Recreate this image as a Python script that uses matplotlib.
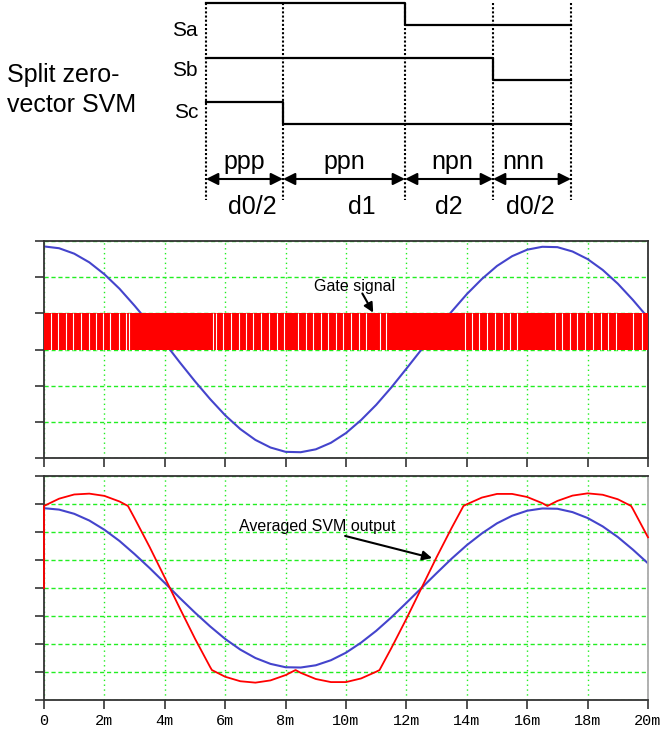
import matplotlib
matplotlib.use("Agg")
import matplotlib.pyplot as plt
import numpy as np

plt.rcParams['font.family'] = ['Liberation Sans', 'DejaVu Sans']

# ---- timing diagram data (split zero-vector SVM) ----
switches = ['Sa', 'Sb', 'Sc']
states = ['ppp', 'ppn', 'npn', 'nnn']
durations = ['d0/2', 'd1', 'd2', 'd0/2']
seg_width = [77, 122, 88, 78]          # relative interval lengths

# ---- waveform data (time in ms) ----
t_ref = np.arange(0, 20.5, 0.5)
ref_wave = [2.85, 2.80, 2.65, 2.41, 2.08, 1.68, 1.21, 0.71, 0.18, -0.36,
            -0.88, -1.37, -1.82, -2.20, -2.50, -2.71, -2.83, -2.84, -2.76, -2.58,
            -2.31, -1.95, -1.53, -1.05, -0.53, 0.00, 0.53, 1.05, 1.53, 1.95,
            2.31, 2.58, 2.76, 2.84, 2.83, 2.71, 2.50, 2.20, 1.82, 1.37, 0.88]

t_avg = [0, 0, 0.5, 1.0, 1.5, 2.0, 2.5, 2.78, 3.0, 3.5, 4.0, 4.5, 5.0, 5.5, 5.56,
         6.0, 6.5, 7.0, 7.5, 8.0, 8.33, 8.5, 9.0, 9.5, 10.0, 10.5, 11.0, 11.11,
         11.5, 12.0, 12.5, 13.0, 13.5, 13.89, 14.0, 14.5, 15.0, 15.5, 16.0, 16.5,
         16.67, 17.0, 17.5, 18.0, 18.5, 19.0, 19.44, 19.5, 20.0]
avg_out = [0, 2.93, 3.19, 3.34, 3.37, 3.29, 3.09, 2.93, 2.49, 1.46, 0.37, -0.73,
           -1.81, -2.82, -2.93, -3.17, -3.33, -3.38, -3.30, -3.11, -2.93, -3.03,
           -3.25, -3.36, -3.36, -3.23, -2.99, -2.93, -2.15, -1.10, 0.00, 1.10,
           2.15, 2.93, 2.99, 3.23, 3.36, 3.36, 3.25, 3.03, 2.93, 3.11, 3.30,
           3.38, 3.33, 3.17, 2.93, 2.82, 1.81]

gate_span = [0, 20]
gate_low, gate_high = 0, 1
gate_gaps = [0.22, 0.45, 0.72, 0.95, 1.21, 1.48, 1.71, 1.97, 2.20, 2.47, 2.70, 2.83,
             5.58, 5.71, 5.94, 6.20, 6.47, 6.70, 6.93, 7.19, 7.46, 7.70, 7.96,
             8.42, 8.68, 8.92, 9.18, 9.41, 9.68, 9.91, 10.17, 10.44, 10.67, 11.13, 11.33,
             13.94, 14.17, 14.40, 14.67, 14.93, 15.19, 15.42, 15.66,
             16.91, 17.14, 17.41, 17.64, 17.91, 18.17, 18.43, 18.67, 18.93, 19.49, 19.79]

x_ticks = list(range(0, 21, 2))
x_labels = ['0'] + ['%dm' % v for v in x_ticks[1:]]

W, H = 664, 730
fig = plt.figure(figsize=(W / 100, H / 100), dpi=100)


def box(l, t, r, b):
    return [l / W, 1 - b / H, (r - l) / W, (b - t) / H]


# ---- top schematic, drawn in pixel units ----
ax0 = fig.add_axes([0, 0, 1, 1])
ax0.set_xlim(0, W)
ax0.set_ylim(H, 0)
ax0.axis('off')

x_start = 206
edges = np.concatenate([[0], np.cumsum(seg_width)]) + x_start
hi_y = [3, 58, 102]
swing = 22
for i, name in enumerate(switches):
    lv = [hi_y[i] if s[i] == 'p' else hi_y[i] + swing for s in states]
    ax0.step(edges, lv + [lv[-1]], where='post', color='black', lw=1.6)
    ax0.text(198, [30, 71, 113][i], name, ha='right', va='center', fontsize=15)

ax0.vlines(edges, 3, 200, colors='black', linestyles=(0, (1, 1)), lw=1.5)
mids = (edges[:-1] + edges[1:]) / 2
state_shift = [0, 0, 3, -9]
dur_shift = [8, 18, 0, -2]
for j in range(len(states)):
    ax0.annotate('', xy=(edges[j + 1], 179), xytext=(edges[j], 179),
                 arrowprops=dict(arrowstyle='<|-|>', color='black', lw=1.5,
                                 mutation_scale=18, shrinkA=0, shrinkB=0))
    ax0.text(mids[j] + state_shift[j], 162, states[j], ha='center', va='center', fontsize=18)
    ax0.text(mids[j] + dur_shift[j], 207, durations[j], ha='center', va='center', fontsize=18)

ax0.text(7, 90, 'Split zero-\nvector SVM', ha='left', va='center', fontsize=18,
         linespacing=1.3)

grid_green = '#22ee22'
spine_col = '#333333'


def style(ax, yl):
    ax.set_xlim(0, 20)
    ax.set_ylim(-yl, yl)
    ax.set_xticks(x_ticks)
    ax.set_yticks(range(-yl, yl + 1))
    ax.set_yticklabels([])
    ax.tick_params(direction='out', length=6.5, width=1.3, color='#444444')
    ax.grid(axis='y', color=grid_green, ls=(0, (3, 2)), lw=1)
    ax.grid(axis='x', color=grid_green, ls=(0, (1, 2.5)), lw=1)
    for sp in ax.spines.values():
        sp.set_color(spine_col)
        sp.set_linewidth(1.3)


# ---- middle: gate signal ----
ax1 = fig.add_axes(box(44, 241, 648, 458))
style(ax1, 3)
ax1.set_xticklabels([])
ax1.plot(t_ref, ref_wave, color='#4444cc', lw=1.5, zorder=2)
ax1.fill_between(gate_span, gate_low, gate_high, color='#ff0000', lw=0, zorder=3)
ax1.vlines(gate_gaps, gate_low, gate_high, colors='white', lw=0.8, zorder=4)
ax1.text(10.27, 1.74, 'Gate signal', ha='center', va='center', fontsize=11.5, zorder=5)
ax1.annotate('', xy=(10.9, 1.02), xytext=(10.54, 1.55),
             arrowprops=dict(arrowstyle='-|>', color='black', lw=1.5,
                             mutation_scale=14, shrinkA=0, shrinkB=0), zorder=5)

# ---- bottom: averaged SVM output ----
ax2 = fig.add_axes(box(44, 476, 648, 700))
style(ax2, 4)
ax2.spines['right'].set_color('#aaaaaa')
ax2.set_xticklabels(x_labels, family='Liberation Mono', fontsize=11)
ax2.plot(t_ref, ref_wave, color='#4444cc', lw=1.5, zorder=2)
ax2.plot(t_avg, avg_out, color='#ff0000', lw=1.3, zorder=3, clip_on=False)
ax2.text(9.06, 2.21, 'Averaged SVM output', ha='center', va='center', fontsize=11.5)
ax2.annotate('', xy=(12.85, 1.07), xytext=(9.97, 1.86),
             arrowprops=dict(arrowstyle='-|>', color='black', lw=1.5,
                             mutation_scale=14, shrinkA=0, shrinkB=0))

fig.savefig('out.png', dpi=100)
